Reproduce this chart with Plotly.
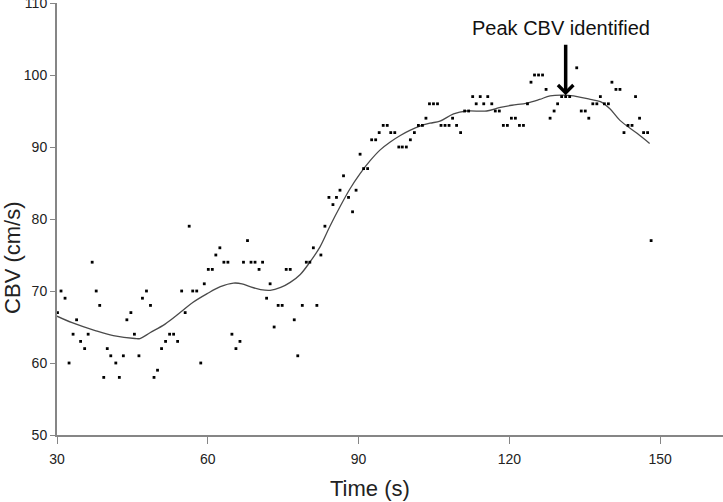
import plotly.graph_objects as go

# Measured CBV samples (time in s, CBV in cm/s)
time_s = [30.1, 30.8, 31.6, 32.4, 33.2, 33.9, 34.7, 35.5, 36.2, 37.0, 37.8, 38.5, 39.3, 40.0,
          40.7, 41.7, 42.4, 43.2, 43.9, 44.7, 45.4, 46.3, 47.0, 47.8, 48.6, 49.3, 50.0, 50.8,
          51.6, 52.4, 53.2, 54.0, 54.8, 55.5, 56.3, 57.0, 57.8, 58.6, 59.3, 60.1, 60.9, 61.6,
          62.4, 63.2, 64.0, 64.8, 65.6, 66.4, 67.1, 67.9, 68.6, 69.4, 70.2, 70.9, 71.7, 72.4,
          73.2, 74.0, 74.8, 75.6, 76.4, 77.2, 77.9, 78.8, 79.6, 80.3, 81.0, 81.7, 82.5, 83.3,
          84.1, 84.9, 85.6, 86.3, 87.0, 88.0, 88.8, 89.5, 90.3, 91.0, 91.8, 92.6, 93.4, 94.1,
          94.9, 95.7, 96.4, 97.2, 98.0, 98.7, 99.5, 100.3, 101.1, 101.9, 102.7, 103.4, 104.1,
          104.9, 105.7, 106.4, 107.2, 108.0, 108.7, 109.5, 110.3, 111.1, 111.9, 112.7, 113.4,
          114.2, 114.9, 115.7, 116.5, 117.2, 118.0, 118.8, 119.6, 120.4, 121.2, 122.0, 122.8,
          123.6, 124.3, 125.0, 125.8, 126.6, 127.3, 128.1, 128.9, 129.6, 130.4, 131.2, 132.0,
          133.4, 134.3, 135.1, 135.8, 136.6, 137.4, 138.1, 138.9, 139.7, 140.4, 141.2, 142.0,
          142.8, 143.6, 144.4, 145.1, 145.9, 146.7, 147.5, 148.2]
cbv = [67, 70, 69, 60, 64, 66, 63, 62, 64, 74, 70, 68, 58, 62,
       61, 60, 58, 61, 66, 67, 64, 61, 69, 70, 68, 58, 59, 62,
       63, 64, 64, 63, 70, 67, 79, 70, 70, 60, 71, 73, 73, 75,
       76, 74, 74, 64, 62, 63, 74, 77, 74, 74, 73, 74, 69, 71,
       65, 68, 68, 73, 73, 66, 61, 68, 74, 74, 76, 68, 75, 79,
       83, 82, 83, 84, 86, 83, 81, 84, 89, 87, 87, 91, 91, 92,
       93, 93, 92, 92, 90, 90, 90, 91, 92, 93, 93, 94, 96,
       96, 96, 93, 93, 93, 94, 93, 92, 95, 95, 97, 96,
       97, 96, 97, 96, 95, 95, 93, 93, 94, 94, 93, 93,
       96, 99, 100, 100, 100, 98, 94, 95, 96, 97, 97, 97,
       101, 95, 95, 94, 96, 96, 97, 96, 96, 99, 98, 98,
       92, 93, 93, 97, 94, 92, 92, 77]

# Smoothed fit curve
curve_t = [30.0, 33.0, 37.6, 41.2, 45.5, 46.5, 48.5, 51.5, 54.5, 57.0, 59.8, 62.5, 65.1, 66.8,
           68.4, 70.5, 72.4, 74.5, 76.4, 78.4, 80.3, 82.3, 84.3, 86.3, 88.3, 90.3, 92.3, 94.3,
           96.3, 98.3, 100.2, 102.2, 104.2, 106.2, 108.9, 111.5, 115.5, 118.2, 120.5, 123.5,
           126.0, 128.1, 131.2, 133.5, 136.1, 138.1, 140.0, 142.0, 145.4, 147.9]
curve_cbv = [66.5, 65.6, 64.5, 63.8, 63.4, 63.4, 64.2, 65.4, 67.0, 68.4, 69.6, 70.6, 71.1, 71.0,
             70.6, 70.2, 70.1, 70.5, 71.2, 72.3, 74.0, 76.1, 79.0, 81.7, 84.2, 86.3, 88.1, 89.6,
             90.7, 91.6, 92.3, 92.9, 93.3, 93.6, 94.6, 95.0, 95.0, 95.5, 95.8, 96.1,
             96.6, 97.1, 97.2, 97.0, 96.6, 96.3, 95.3, 93.7, 91.9, 90.5]

x_ticks = [30, 60, 90, 120, 150]
y_ticks = [50, 60, 70, 80, 90, 100, 110]

peak_t = 131.2
peak_cbv = 97.2

font_family = "Liberation Sans, Arial, sans-serif"
axis_color = "#868686"

fig = go.Figure()
fig.add_trace(go.Scatter(
    x=curve_t, y=curve_cbv, mode="lines",
    line=dict(color="#4a4a4a", width=1.3, shape="spline", smoothing=1.0),
    hoverinfo="skip", showlegend=False,
))
fig.add_trace(go.Scatter(
    x=time_s, y=cbv, mode="markers",
    marker=dict(symbol="square", size=2.8, color="black", line=dict(width=0)),
    showlegend=False,
))

fig.update_layout(
    width=723, height=502,
    margin=dict(l=57, r=0, t=3, b=67, autoexpand=False),
    plot_bgcolor="white", paper_bgcolor="white",
    font=dict(family=font_family, color="#222222"),
    xaxis=dict(
        range=[30, 162.5], tickvals=x_ticks, ticktext=[str(v) for v in x_ticks],
        showgrid=False, zeroline=False, showline=True, linecolor=axis_color, linewidth=2,
        ticks="outside", ticklen=7, tickcolor=axis_color, tickwidth=1, automargin=False,
        ticklabelstandoff=3, ticklabeloverflow="allow",
        tickfont=dict(size=14, family=font_family, color="#222222"),
    ),
    yaxis=dict(
        range=[50, 110], tickvals=y_ticks, ticktext=[str(v) for v in y_ticks],
        showgrid=False, zeroline=False, showline=True, linecolor=axis_color, linewidth=2,
        ticks="outside", ticklen=5, tickcolor=axis_color, tickwidth=1, automargin=False,
        ticklabeloverflow="allow",
        tickfont=dict(size=14, family=font_family, color="#222222"),
    ),
    annotations=[
        dict(x=peak_t, y=peak_cbv, xref="x", yref="y", text="", showarrow=True,
             ax=0, ay=-52, arrowhead=4, arrowsize=0.85, arrowwidth=3.5, arrowcolor="black",
             standoff=0),
        dict(x=130.3, y=106.5, xref="x", yref="y", text="Peak CBV identified", showarrow=False,
             xanchor="center", yanchor="middle",
             font=dict(size=20, family=font_family, color="#111111")),
        dict(x=0.47, y=-0.123, xref="paper", yref="paper", text="Time (s)", showarrow=False,
             xanchor="center", yanchor="middle",
             font=dict(size=22, family=font_family, color="#222222")),
        dict(x=-0.066, y=0.41, xref="paper", yref="paper", text="CBV (cm/s)", showarrow=False,
             xanchor="center", yanchor="middle",
             textangle=-90, font=dict(size=22, family=font_family, color="#222222")),
    ],
)

fig.write_html(
    "out.html",
    config={"displayModeBar": False},
    post_script="document.body.style.margin='0';document.body.style.overflow='hidden';",
)
